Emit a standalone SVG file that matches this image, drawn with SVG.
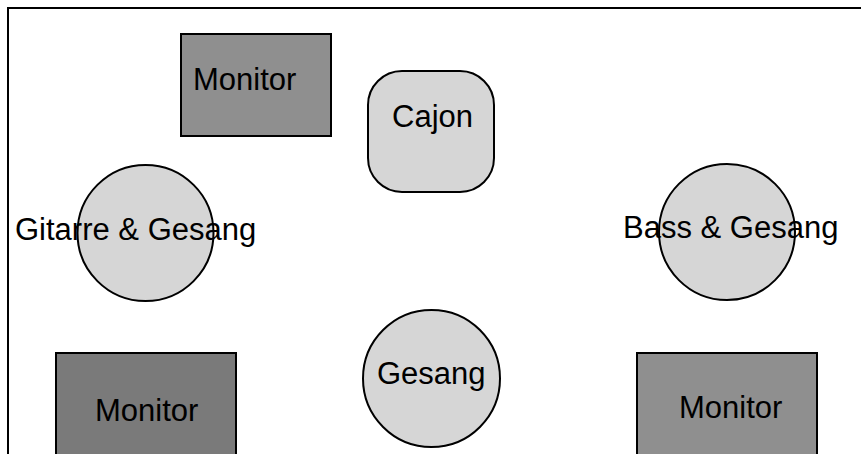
<svg xmlns="http://www.w3.org/2000/svg" width="861" height="454" viewBox="0 0 861 454">
<style>
.shape{stroke:#000;stroke-width:2}
.light{fill:#d6d6d6}
.mon{fill:#8f8f8f}
.mon2{fill:#7a7a7a}
text{font-family:"Liberation Sans",Arial,sans-serif;font-size:31px;fill:#000}
</style>
<rect x="0" y="0" width="861" height="454" fill="#fff"/>
<rect id="frame" x="8" y="8" width="880" height="480" fill="none" stroke="#000" stroke-width="2"/>
<g id="connectors"></g>
<g id="monitor-top">
<rect class="shape mon" x="181" y="34" width="150" height="102"/>
<text x="193" y="90">Monitor</text>
</g>
<g id="cajon">
<rect class="shape light" x="368" y="71" width="126" height="121" rx="34" ry="34"/>
<text x="392" y="127">Cajon</text>
</g>
<g id="gitarre">
<circle class="shape light" cx="145.5" cy="233" r="68"/>
<text x="15" y="240">Gitarre &amp; Gesang</text>
</g>
<g id="bass">
<circle class="shape light" cx="727" cy="232" r="68"/>
<text x="623" y="238">Bass &amp; Gesang</text>
</g>
<g id="gesang">
<circle class="shape light" cx="431.5" cy="378.5" r="68.5"/>
<text x="377" y="384">Gesang</text>
</g>
<g id="monitor-left">
<rect class="shape mon2" x="56" y="353" width="180" height="115"/>
<text x="95" y="421">Monitor</text>
</g>
<g id="monitor-right">
<rect class="shape mon" x="637" y="353" width="180" height="115"/>
<text x="679" y="418">Monitor</text>
</g>
</svg>
